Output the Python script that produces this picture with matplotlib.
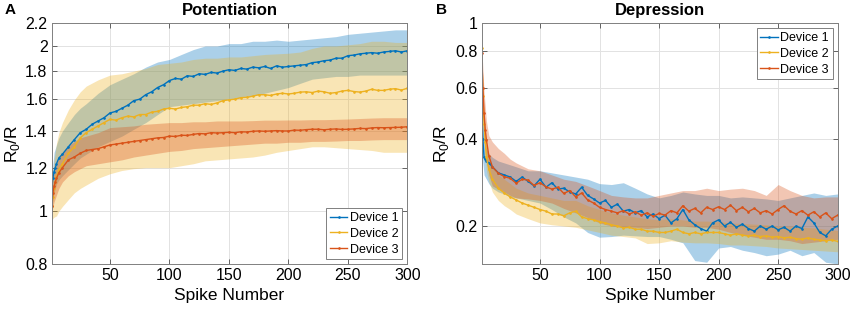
"""
Potentiation / depression of R0/R over 300 spikes, three devices.
"""
import matplotlib
matplotlib.use("Agg")
import matplotlib.pyplot as plt
from matplotlib.ticker import FixedLocator, FixedFormatter, NullLocator

# =============================================================================
# DATA
# =============================================================================
SPIKES = [1, 2, 3, 4, 5, 7, 10, 15, 20, 25, 30, 35, 40, 45, 50, 55, 60, 65, 70,
          75, 80, 85, 90, 95, 100, 105, 110, 115, 120, 125, 130, 135, 140, 145,
          150, 155, 160, 165, 170, 175, 180, 185, 190, 195, 200, 205, 210, 215,
          220, 225, 230, 235, 240, 245, 250, 255, 260, 265, 270, 275, 280, 285,
          290, 295, 300]

# spikes where the error band edges were read
BAND_SPIKES = [1, 2, 3, 5, 7, 10, 15, 20, 25, 30, 40, 50, 60, 70, 80, 90, 100,
               110, 120, 130, 140, 150, 160, 170, 180, 190, 200, 210, 220, 230,
               240, 250, 260, 270, 280, 290, 300]

DEVICES = ["Device 1", "Device 2", "Device 3"]

# --- Potentiation: mean R0/R ---
pot_d1 = [1.10, 1.15, 1.18, 1.20, 1.22, 1.25, 1.27, 1.31, 1.35, 1.39, 1.41, 1.44,
          1.46, 1.48, 1.51, 1.52, 1.54, 1.56, 1.59, 1.60, 1.63, 1.65, 1.68, 1.70,
          1.73, 1.745, 1.74, 1.765, 1.76, 1.78, 1.775, 1.79, 1.785, 1.80, 1.81,
          1.805, 1.82, 1.815, 1.83, 1.825, 1.835, 1.82, 1.84, 1.83, 1.835, 1.84,
          1.845, 1.85, 1.865, 1.87, 1.88, 1.885, 1.90, 1.90, 1.92, 1.925, 1.935,
          1.94, 1.945, 1.94, 1.95, 1.955, 1.96, 1.95, 1.96]
pot_d2 = [1.02, 1.06, 1.10, 1.13, 1.156, 1.19, 1.22, 1.275, 1.31, 1.36, 1.39,
          1.41, 1.43, 1.45, 1.47, 1.465, 1.48, 1.49, 1.485, 1.50, 1.50, 1.515,
          1.52, 1.535, 1.54, 1.535, 1.545, 1.55, 1.56, 1.56, 1.57, 1.565, 1.575,
          1.59, 1.595, 1.60, 1.61, 1.612, 1.62, 1.63, 1.63, 1.625, 1.635, 1.64,
          1.635, 1.64, 1.648, 1.65, 1.645, 1.655, 1.65, 1.64, 1.645, 1.655, 1.66,
          1.652, 1.648, 1.655, 1.668, 1.66, 1.66, 1.668, 1.672, 1.662, 1.675]
pot_d3 = [1.02, 1.08, 1.11, 1.13, 1.148, 1.175, 1.20, 1.24, 1.255, 1.275, 1.29,
          1.295, 1.30, 1.31, 1.32, 1.325, 1.33, 1.335, 1.34, 1.345, 1.35, 1.355,
          1.36, 1.362, 1.37, 1.368, 1.375, 1.374, 1.38, 1.385, 1.383, 1.39, 1.388,
          1.39, 1.392, 1.39, 1.395, 1.394, 1.398, 1.40, 1.398, 1.40, 1.402, 1.40,
          1.40, 1.405, 1.404, 1.408, 1.41, 1.41, 1.407, 1.41, 1.412, 1.409, 1.41,
          1.412, 1.415, 1.414, 1.418, 1.42, 1.419, 1.42, 1.421, 1.422, 1.425]

# --- Potentiation: error band edges ---
pot_d1_lo = [1.00, 1.05, 1.08, 1.12, 1.14, 1.16, 1.19, 1.22, 1.25, 1.27, 1.31,
             1.34, 1.37, 1.41, 1.45, 1.50, 1.55, 1.56, 1.57, 1.58, 1.59, 1.60,
             1.61, 1.62, 1.64, 1.66, 1.68, 1.71, 1.74, 1.75, 1.76, 1.76, 1.77,
             1.77, 1.77, 1.77, 1.77]
pot_d1_hi = [1.12, 1.22, 1.28, 1.32, 1.36, 1.40, 1.45, 1.50, 1.54, 1.57, 1.64,
             1.70, 1.74, 1.78, 1.83, 1.87, 1.89, 1.93, 1.97, 2.00, 2.00, 2.02,
             2.02, 2.04, 2.04, 2.05, 2.04, 2.05, 2.06, 2.07, 2.08, 2.10, 2.11,
             2.12, 2.13, 2.14, 2.14]
pot_d2_lo = [0.96, 0.97, 0.975, 0.98, 1.00, 1.02, 1.05, 1.08, 1.10, 1.116, 1.148,
             1.17, 1.186, 1.195, 1.20, 1.20, 1.20, 1.21, 1.22, 1.235, 1.24, 1.245,
             1.25, 1.255, 1.265, 1.28, 1.29, 1.30, 1.31, 1.31, 1.305, 1.30, 1.295,
             1.29, 1.28, 1.28, 1.28]
pot_d2_hi = [1.08, 1.18, 1.24, 1.33, 1.39, 1.45, 1.53, 1.595, 1.65, 1.69, 1.735,
             1.77, 1.78, 1.80, 1.82, 1.85, 1.86, 1.87, 1.89, 1.90, 1.90, 1.91,
             1.91, 1.92, 1.93, 1.935, 1.94, 1.95, 1.98, 2.00, 2.00, 2.01, 2.02,
             2.04, 2.04, 2.03, 2.03]
pot_d3_lo = [0.98, 1.02, 1.04, 1.07, 1.10, 1.13, 1.16, 1.18, 1.195, 1.21, 1.22,
             1.23, 1.24, 1.255, 1.265, 1.275, 1.285, 1.29, 1.30, 1.305, 1.31,
             1.315, 1.32, 1.325, 1.33, 1.33, 1.335, 1.335, 1.34, 1.34, 1.342,
             1.345, 1.345, 1.348, 1.35, 1.35, 1.35]
pot_d3_hi = [1.06, 1.14, 1.18, 1.22, 1.25, 1.28, 1.315, 1.34, 1.36, 1.37, 1.39,
             1.42, 1.425, 1.43, 1.44, 1.445, 1.45, 1.45, 1.455, 1.455, 1.46, 1.46,
             1.46, 1.462, 1.465, 1.465, 1.466, 1.466, 1.468, 1.468, 1.47, 1.472,
             1.475, 1.478, 1.48, 1.48, 1.48]

# --- Depression: mean R0/R ---
dep_d1 = [0.53, 0.40, 0.345, 0.34, 0.335, 0.33, 0.32, 0.305, 0.30, 0.295, 0.285,
          0.295, 0.285, 0.275, 0.29, 0.272, 0.282, 0.268, 0.27, 0.262, 0.258,
          0.272, 0.255, 0.248, 0.24, 0.245, 0.232, 0.238, 0.225, 0.228, 0.222,
          0.226, 0.215, 0.22, 0.212, 0.218, 0.205, 0.212, 0.228, 0.21, 0.202,
          0.196, 0.192, 0.205, 0.21, 0.20, 0.206, 0.198, 0.203, 0.196, 0.192,
          0.20, 0.195, 0.20, 0.194, 0.198, 0.192, 0.20, 0.196, 0.215, 0.205,
          0.19, 0.185, 0.195, 0.20]
dep_d2 = [0.82, 0.56, 0.45, 0.39, 0.345, 0.315, 0.29, 0.27, 0.26, 0.252, 0.246,
          0.24, 0.236, 0.232, 0.228, 0.225, 0.22, 0.22, 0.217, 0.222, 0.225,
          0.215, 0.212, 0.21, 0.207, 0.205, 0.202, 0.20, 0.197, 0.198, 0.195,
          0.195, 0.192, 0.192, 0.19, 0.19, 0.192, 0.195, 0.19, 0.188, 0.19,
          0.188, 0.19, 0.19, 0.19, 0.188, 0.186, 0.188, 0.186, 0.185, 0.186,
          0.184, 0.185, 0.183, 0.184, 0.182, 0.183, 0.181, 0.18, 0.182, 0.18,
          0.179, 0.178, 0.179, 0.177]
dep_d3 = [0.79, 0.60, 0.49, 0.43, 0.396, 0.35, 0.32, 0.304, 0.296, 0.292, 0.281,
          0.29, 0.288, 0.276, 0.282, 0.273, 0.268, 0.272, 0.259, 0.265, 0.252,
          0.26, 0.246, 0.24, 0.232, 0.228, 0.225, 0.222, 0.226, 0.22, 0.224,
          0.218, 0.222, 0.216, 0.221, 0.218, 0.226, 0.222, 0.235, 0.225, 0.23,
          0.222, 0.232, 0.228, 0.233, 0.228, 0.236, 0.226, 0.232, 0.224, 0.23,
          0.222, 0.226, 0.22, 0.228, 0.235, 0.225, 0.22, 0.226, 0.218, 0.224,
          0.215, 0.222, 0.212, 0.218]

# --- Depression: error band edges ---
dep_d1_lo = [0.42, 0.33, 0.30, 0.29, 0.28, 0.27, 0.262, 0.258, 0.252, 0.25,
             0.245, 0.24, 0.228, 0.215, 0.205, 0.19, 0.183, 0.184, 0.186, 0.185,
             0.184, 0.184, 0.18, 0.175, 0.152, 0.15, 0.168, 0.17, 0.165, 0.162,
             0.158, 0.16, 0.165, 0.158, 0.162, 0.15, 0.148]
dep_d1_hi = [0.65, 0.48, 0.40, 0.37, 0.355, 0.345, 0.335, 0.33, 0.325, 0.32,
             0.31, 0.31, 0.305, 0.30, 0.295, 0.29, 0.28, 0.278, 0.282, 0.27,
             0.258, 0.25, 0.255, 0.262, 0.258, 0.255, 0.255, 0.25, 0.252, 0.25,
             0.248, 0.245, 0.25, 0.255, 0.26, 0.255, 0.258]
dep_d2_lo = [0.78, 0.50, 0.40, 0.31, 0.285, 0.262, 0.245, 0.235, 0.228, 0.22,
             0.212, 0.205, 0.202, 0.20, 0.198, 0.194, 0.19, 0.186, 0.184, 0.182,
             0.174, 0.175, 0.178, 0.176, 0.175, 0.175, 0.174, 0.172, 0.172, 0.171,
             0.17, 0.168, 0.167, 0.166, 0.165, 0.164, 0.163]
dep_d2_hi = [0.86, 0.62, 0.50, 0.38, 0.345, 0.32, 0.30, 0.29, 0.28, 0.27, 0.26,
             0.255, 0.25, 0.245, 0.245, 0.235, 0.228, 0.222, 0.218, 0.215, 0.212,
             0.21, 0.212, 0.21, 0.208, 0.208, 0.207, 0.205, 0.204, 0.203, 0.202,
             0.20, 0.20, 0.198, 0.197, 0.195, 0.193]
dep_d3_lo = [0.72, 0.50, 0.41, 0.34, 0.30, 0.275, 0.268, 0.262, 0.255, 0.25,
             0.248, 0.245, 0.24, 0.23, 0.222, 0.214, 0.205, 0.20, 0.198, 0.198,
             0.196, 0.198, 0.20, 0.20, 0.198, 0.198, 0.195, 0.19, 0.186, 0.183,
             0.18, 0.18, 0.178, 0.174, 0.176, 0.178, 0.18]
dep_d3_hi = [0.85, 0.70, 0.58, 0.46, 0.41, 0.39, 0.37, 0.356, 0.34, 0.33, 0.315,
             0.31, 0.30, 0.29, 0.285, 0.275, 0.265, 0.255, 0.252, 0.25, 0.25,
             0.255, 0.26, 0.265, 0.265, 0.27, 0.265, 0.268, 0.27, 0.265, 0.255,
             0.278, 0.265, 0.255, 0.25, 0.252, 0.252]

X_TICKS = [50, 100, 150, 200, 250, 300]
POT_Y_TICKS = [0.8, 1, 1.2, 1.4, 1.6, 1.8, 2, 2.2]
DEP_Y_TICKS = [0.2, 0.4, 0.6, 0.8, 1]

# MATLAB default line colours
COLORS = ["#0072BD", "#EDB120", "#D95319"]

# =============================================================================
# STYLE
# =============================================================================
plt.rcParams["font.family"] = ["Liberation Sans", "DejaVu Sans"]
plt.rcParams["mathtext.fontset"] = "custom"
plt.rcParams["mathtext.rm"] = "Liberation Sans"


def style_axes(ax, yticks, ylim):
    ax.set_yscale("log")
    ax.set_xlim(1, 300)
    ax.set_ylim(*ylim)
    ax.set_xticks(X_TICKS)
    ax.yaxis.set_major_locator(FixedLocator(yticks))
    ax.yaxis.set_major_formatter(FixedFormatter([f"{t:g}" for t in yticks]))
    ax.yaxis.set_minor_locator(NullLocator())
    ax.xaxis.set_minor_locator(NullLocator())
    ax.tick_params(direction="in", top=True, right=True, length=3.5,
                   width=0.6, labelsize=11.5, color="#4d4d4d", pad=3)
    ax.grid(True, color="#e2e2e2", linewidth=0.7)
    ax.set_axisbelow(True)
    for sp in ax.spines.values():
        sp.set_color("#808080")
        sp.set_linewidth(0.7)
    ax.set_xlabel("Spike Number", fontsize=12.5, labelpad=3)
    ax.set_ylabel(r"R$_\mathregular{0}$/R", fontsize=12.5)


def draw_panel(ax, means, bands):
    for name, color, mean, (lo, hi) in zip(DEVICES, COLORS, means, bands):
        ax.fill_between(BAND_SPIKES, lo, hi, color=color, alpha=0.33,
                        linewidth=0)
        ax.plot(SPIKES, mean, color=color, linewidth=1.0, marker=".",
                markersize=1.8, label=name)


# =============================================================================
# PLOT
# =============================================================================
fig = plt.figure(figsize=(8.51, 3.09), dpi=100)
ax1 = fig.add_axes([0.0608, 0.1447, 0.4179, 0.78])
ax2 = fig.add_axes([0.5660, 0.1447, 0.4183, 0.78])

draw_panel(ax1, [pot_d1, pot_d2, pot_d3],
           [(pot_d1_lo, pot_d1_hi), (pot_d2_lo, pot_d2_hi), (pot_d3_lo, pot_d3_hi)])
draw_panel(ax2, [dep_d1, dep_d2, dep_d3],
           [(dep_d1_lo, dep_d1_hi), (dep_d2_lo, dep_d2_hi), (dep_d3_lo, dep_d3_hi)])

style_axes(ax1, POT_Y_TICKS, (0.8, 2.2))
style_axes(ax2, DEP_Y_TICKS, (0.1476, 1.0))
ax1.yaxis.set_label_coords(-0.085, 0.5)
ax2.yaxis.set_label_coords(-0.085, 0.5)

ax1.set_title("Potentiation", fontsize=12, fontweight="bold", pad=6)
ax2.set_title("Depression", fontsize=12, fontweight="bold", pad=6)

leg_kw = dict(fontsize=9, fancybox=False, framealpha=1, edgecolor="#808080",
              handlelength=1.4, handletextpad=0.2, borderpad=0.3,
              labelspacing=0.3, borderaxespad=0.4)
leg1 = ax1.legend(loc="lower right", **leg_kw)
leg2 = ax2.legend(loc="upper right", **leg_kw)
for leg in (leg1, leg2):
    leg.get_frame().set_linewidth(0.7)

fig.text(0.006, 0.99, "A", fontsize=11, fontweight="bold", va="top")
fig.text(0.512, 0.99, "B", fontsize=11, fontweight="bold", va="top")

fig.savefig("out.png", dpi=100)
